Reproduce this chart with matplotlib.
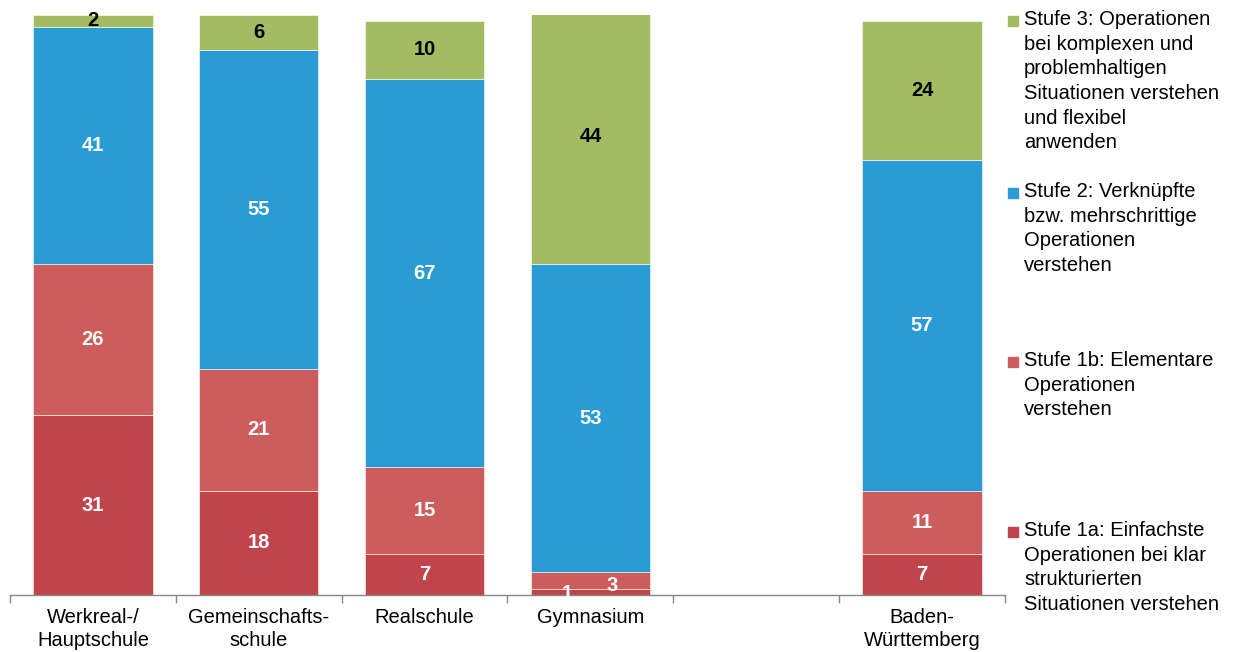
import matplotlib.pyplot as plt
import numpy as np

plt.rcParams['font.family'] = ['Liberation Sans', 'DejaVu Sans']

schularten = ["Werkreal-/\nHauptschule", "Gemeinschafts-\nschule", "Realschule",
              "Gymnasium", "", "Baden-\nWürttemberg"]
pos = [0, 1, 2, 3, 5]  # Slot 4 bleibt leer

stufe1a = [31, 18, 7, 1, 7]
stufe1b = [26, 21, 15, 3, 11]
stufe2 = [41, 55, 67, 53, 57]
stufe3 = [2, 6, 10, 44, 24]

stufen = ["Stufe 1a: Einfachste\nOperationen bei klar\nstrukturierten\nSituationen verstehen",
          "Stufe 1b: Elementare\nOperationen\nverstehen",
          "Stufe 2: Verknüpfte\nbzw. mehrschrittige\nOperationen\nverstehen",
          "Stufe 3: Operationen\nbei komplexen und\nproblemhaltigen\nSituationen verstehen\nund flexibel\nanwenden"]
farben = ["#C0444A", "#CD5C5C", "#2A9BD5", "#A3BC62"]
textfarben = ["white", "white", "white", "black"]

fig = plt.figure(figsize=(12.39, 6.52), dpi=100)
ax = fig.add_axes([10/1239, 1-595/652, 995/1239, 580/652])

werte = [stufe1a, stufe1b, stufe2, stufe3]
unten = np.zeros(len(pos))
for i, serie in enumerate(werte):
    serie = np.array(serie, dtype=float)
    ax.bar(pos, serie, bottom=unten, width=0.72, color=farben[i],
           edgecolor="white", linewidth=0.4)
    for j, (x, v) in enumerate(zip(pos, serie)):
        dx = 0
        y = unten[j] + v / 2
        # kleine Segmente beim Gymnasium seitlich versetzt beschriften
        if v < 4 and i < 2:
            dx = -0.14 if i == 0 else 0.13
            y = unten[j] + v / 2 - (0.3 if i == 0 else 0.8)
        ax.text(x + dx, y, f"{int(v)}", ha="center", va="center",
                fontsize=14.5, fontweight="bold", color=textfarben[i])
    unten += serie

ax.set_xlim(-0.5, 5.5)
ax.set_ylim(0, 100)
ax.set_yticks([])
for s in ["top", "right", "left"]:
    ax.spines[s].set_visible(False)
ax.spines["bottom"].set_color("#888888")
ax.spines["bottom"].set_linewidth(1)
ax.set_xticks(np.arange(-0.5, 6, 1))
ax.set_xticklabels([])
ax.tick_params(axis="x", length=6, color="#888888", width=1)
for k, lab in enumerate(schularten):
    ax.text(k, -2.2, lab, ha="center", va="top", fontsize=14.5,
            linespacing=1.3)

# Legende rechts, von oben nach unten Stufe 3 bis Stufe 1a
leg_y = [21, 193, 362, 532]
for k, idx in enumerate([3, 2, 1, 0]):
    y = leg_y[k]
    fig.patches.append(plt.Rectangle((1008/1239, 1-(y+5)/652), 10/1239, 10/652,
                                     transform=fig.transFigure, color=farben[idx]))
    fig.text(1024/1239, 1-(y-11)/652, stufen[idx], ha="left", va="top",
             fontsize=14.5, linespacing=1.38)

fig.savefig("out.png", dpi=100)
